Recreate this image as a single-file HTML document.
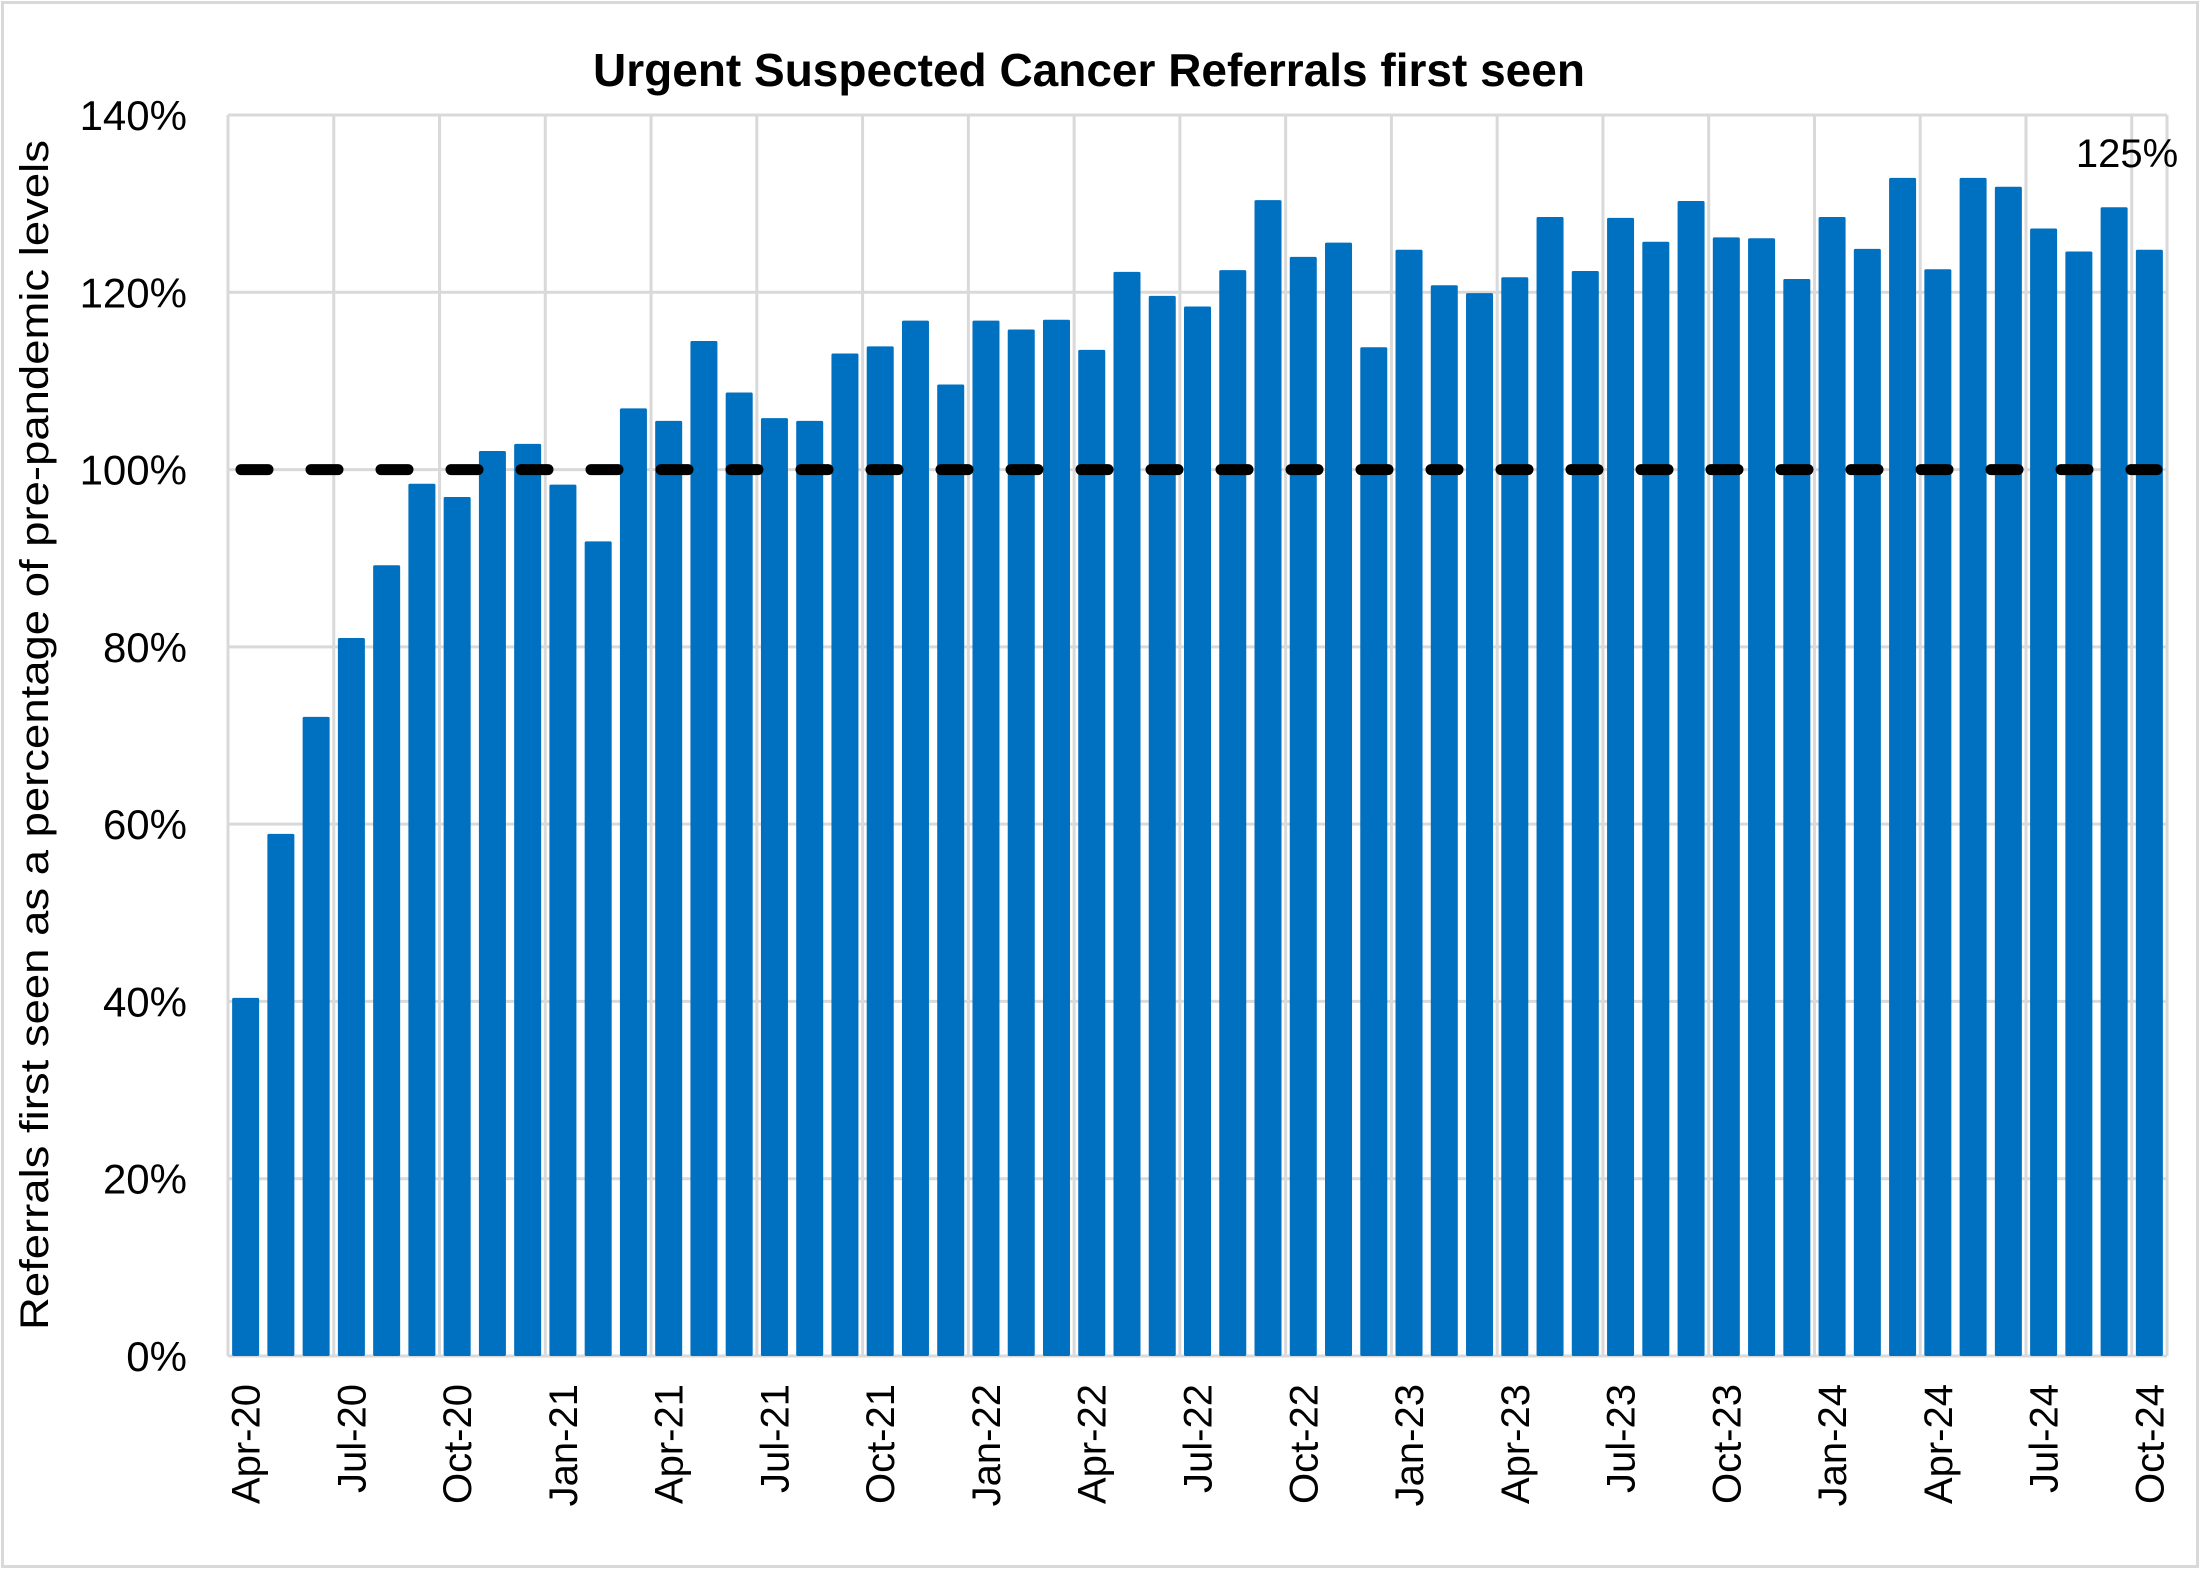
<!DOCTYPE html>
<html><head><meta charset="utf-8">
<style>
html,body{margin:0;padding:0;background:#fff;}
svg{display:block;font-family:"Liberation Sans",Arial,sans-serif;}
</style></head>
<body>
<svg id="chart" width="2202" height="1570" viewBox="0 0 2202 1570" xmlns="http://www.w3.org/2000/svg">
<rect x="2.5" y="2.5" width="2195" height="1564" fill="#fff" stroke="#d9d9d9" stroke-width="3"/>
<text x="1089" y="86" font-size="46" font-weight="bold" text-anchor="middle" fill="#000">Urgent Suspected Cancer Referrals first seen</text>
<text transform="translate(48,735) rotate(-90)" font-size="40" text-anchor="middle" fill="#000" textLength="1190" lengthAdjust="spacingAndGlyphs">Referrals first seen as a percentage of pre-pandemic levels</text>
<g id="grid"></g>
<g id="bars"></g>
<g id="ref"></g>
<g id="yticks"></g>
<g id="xticks"></g>
<text x="2127" y="167" font-size="40" text-anchor="middle" fill="#000">125%</text>
</svg>
<script>
const months = ["Apr","May","Jun","Jul","Aug","Sep","Oct","Nov","Dec","Jan","Feb","Mar"];
const startYear = 20;
const values = [40.4,58.9,72.1,81,89.2,98.4,96.9,102.1,102.9,98.3,91.9,106.9,105.5,114.5,108.7,105.8,105.5,113.1,113.9,116.8,109.6,116.8,115.8,116.9,113.5,122.3,119.6,118.4,122.5,130.4,124,125.6,113.8,124.8,120.8,119.9,121.7,128.5,122.4,128.4,125.7,130.3,126.2,126.1,121.5,128.5,124.9,132.9,122.6,132.9,131.9,127.2,124.6,129.6,124.8];
const yTicks = [0,20,40,60,80,100,120,140];
const referenceValue = 100;

const NS="http://www.w3.org/2000/svg";
const L=228,R=2167,T=115,B=1356,yMax=140;
const n=values.length, step=(R-L)/n, barW=27;
function y(v){return B-(v/yMax)*(B-T);}
function xc(i){return L+step*(i+0.5);}
function mk(tag,attrs,parent){const e=document.createElementNS(NS,tag);for(const k in attrs)e.setAttribute(k,attrs[k]);parent.appendChild(e);return e;}
const labels=values.map((_,i)=>{const m=(i+3)%12;const yr=startYear+Math.floor((i+3)/12);return months[i%12]+"-"+yr;});

const grid=document.getElementById('grid');
yTicks.forEach(t=>{const l=mk('line',{x1:L,x2:R,y1:y(t),y2:y(t),stroke:'#d9d9d9','stroke-width':3},grid);

});
for(let i=0;i<=n;i+=3){const x=L+step*i;const l=mk('line',{x1:x,x2:x,y1:T,y2:B,stroke:'#d9d9d9','stroke-width':3},grid);

}
const rl=mk('line',{x1:R,x2:R,y1:T,y2:B,stroke:'#d9d9d9','stroke-width':3},grid);



const bars=document.getElementById('bars');
values.forEach((v,i)=>{const r=mk('rect',{x:xc(i)-barW/2,y:y(v),width:barW,height:B-y(v),fill:'#0070c0',rx:1.5},bars);

});

const ref=document.getElementById('ref');
const dl=mk('line',{x1:L+13,x2:R-10,y1:y(referenceValue),y2:y(referenceValue),stroke:'#000','stroke-width':11,'stroke-linecap':'round','stroke-dasharray':'27 43'},ref);



const yt=document.getElementById('yticks');
yTicks.forEach(t=>{const e=mk('text',{x:187,y:y(t)+15,'font-size':42,'text-anchor':'end',fill:'#000'},yt);e.textContent=t+'%';

});

const xt=document.getElementById('xticks');
for(let i=0;i<n;i+=3){const x=xc(i)+14;const e=mk('text',{transform:`translate(${x},1384) rotate(-90)`,'font-size':40,'text-anchor':'end',fill:'#000'},xt);e.textContent=labels[i];

}
</script>
</body></html>
